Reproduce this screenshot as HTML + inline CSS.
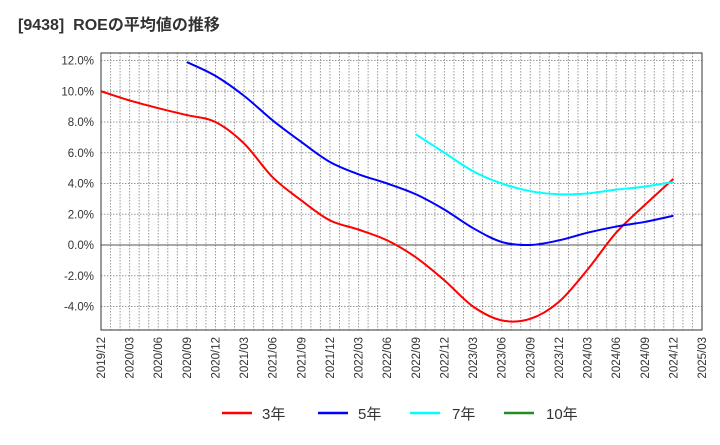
<!DOCTYPE html>
<html><head><meta charset="utf-8"><style>
body{margin:0;background:#fff;font-family:"Liberation Sans","Noto Sans CJK JP",sans-serif}
</style></head><body>
<svg id="c" width="720" height="440" xmlns="http://www.w3.org/2000/svg">
<text x="18" y="30" font-size="16" font-weight="bold" fill="#333" xml:space="preserve">[9438]  ROEの平均値の推移</text>
<g id="grid"></g><g id="series"></g><g id="axes"></g>
<g font-size="15" fill="#333">
<line x1="222" y1="413" x2="252" y2="413" stroke="#f00" stroke-width="2.5"/><text x="262" y="419">3年</text>
<line x1="318" y1="413" x2="348" y2="413" stroke="#00f" stroke-width="2.5"/><text x="358" y="419">5年</text>
<line x1="410" y1="413" x2="440" y2="413" stroke="#0ff" stroke-width="2.5"/><text x="452" y="419">7年</text>
<line x1="504" y1="413" x2="534" y2="413" stroke="#228B22" stroke-width="2.5"/><text x="546" y="419">10年</text>
</g>
</svg>
<script>
const xLabels=["2019/12","2020/03","2020/06","2020/09","2020/12","2021/03","2021/06","2021/09","2021/12","2022/03","2022/06","2022/09","2022/12","2023/03","2023/06","2023/09","2023/12","2024/03","2024/06","2024/09","2024/12","2025/03"];
const yTicks=[-4,-2,0,2,4,6,8,10,12];
const s3=[10.0,9.4,8.9,8.45,8.0,6.6,4.4,2.9,1.6,1.0,0.3,-0.8,-2.3,-4.0,-4.9,-4.8,-3.7,-1.6,0.8,2.6,4.3];
const s3Start=0;
const s5=[11.9,11.0,9.7,8.1,6.7,5.4,4.6,4.0,3.3,2.3,1.1,0.2,0.0,0.3,0.8,1.2,1.5,1.9];
const s5Start=3;
const s7=[7.2,6.0,4.8,4.0,3.5,3.3,3.35,3.6,3.8,4.1];
const s7Start=11;
const s10=[];
const s10Start=0;
const L=101,R=702,T=53,B=330;
const X=i=>L+i*(R-L)/(xLabels.length-1);
const Y=v=>245-v*15.375;
const NS="http://www.w3.org/2000/svg";
function mk(p,t,a){const e=document.createElementNS(NS,t);for(const k in a)e.setAttribute(k,a[k]);p.appendChild(e);return e;}
const g=document.getElementById('grid'),ax=document.getElementById('axes'),sg=document.getElementById('series');
for(let m=1;m<(xLabels.length-1)*3;m++){const x=L+m*(R-L)/((xLabels.length-1)*3);
const l=mk(g,'line',{x1:x,y1:T,x2:x,y2:B,stroke:'#999','stroke-dasharray':'1.5,1.5','stroke-width':1});

}
yTicks.forEach(v=>{const y=Y(v);
const l=mk(g,'line',{x1:L,y1:y,x2:R,y2:y,stroke:v===0?'#555':'#999','stroke-dasharray':v===0?'':'1.5,1.5','stroke-width':1});


const t=mk(ax,'text',{x:L-7,y:y+4,'text-anchor':'end','font-size':11.5,fill:'#333'});t.textContent=v.toFixed(1)+'%';

});
xLabels.forEach((lb,i)=>{const x=X(i);
const t=mk(ax,'text',{x:0,y:0,transform:`translate(${x+4},${B+7}) rotate(-90)`,'text-anchor':'end','font-size':11.5,fill:'#333'});t.textContent=lb;

});
const fr=mk(ax,'rect',{x:L,y:T,width:R-L,height:B-T,fill:'none',stroke:'#333','stroke-width':1});


function path(vals,start){const p=vals.map((v,i)=>[X(start+i),Y(v)]);if(p.length<2)return '';
let d=`M${p[0][0]},${p[0][1]}`;
for(let i=0;i<p.length-1;i++){const p0=p[Math.max(0,i-1)],p1=p[i],p2=p[i+1],p3=p[Math.min(p.length-1,i+2)];
d+=` C${p1[0]+(p2[0]-p0[0])/6},${p1[1]+(p2[1]-p0[1])/6} ${p2[0]-(p3[0]-p1[0])/6},${p2[1]-(p3[1]-p1[1])/6} ${p2[0]},${p2[1]}`;}
return d;}
[[s3,s3Start,'#f00','series-3y'],[s5,s5Start,'#00f','series-5y'],[s7,s7Start,'#0ff','series-7y'],[s10,s10Start,'#228B22','series-10y']].forEach(([v,s,c,n])=>{
const d=path(v,s);if(!d)return;
const e=mk(sg,'path',{d:d,fill:'none',stroke:c,'stroke-width':2});

});
</script>
</body></html>
